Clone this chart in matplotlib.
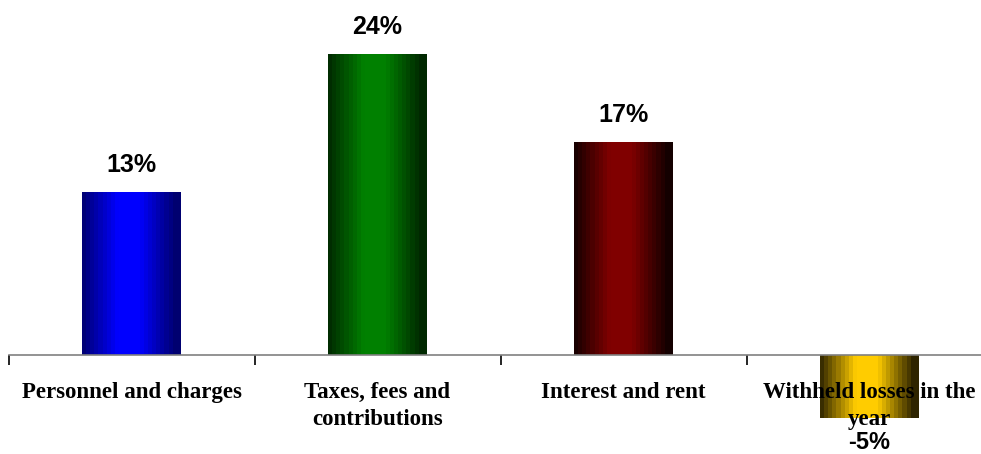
import numpy as np
import matplotlib
matplotlib.use("Agg")
import matplotlib.pyplot as plt
from matplotlib.colors import LinearSegmentedColormap

categories = [
    "Personnel and charges",
    "Taxes, fees and\ncontributions",
    "Interest and rent",
    "Withheld losses in the\nyear",
]
values = [13, 24, 17, -5]
edge_colors = ["#000070", "#002800", "#140000", "#2e2400"]
mid_colors = ["#0000ff", "#008000", "#800000", "#ffcc00"]

fig = plt.figure(figsize=(9.81, 4.54), dpi=100)
ax = fig.add_axes([8.5 / 981, 0, 984 / 981, 1])

x = np.arange(len(values))
bars = ax.bar(x, values, width=0.4, facecolor="none", edgecolor="none", zorder=1)

# stepped horizontal shading: dark edges, bright centre
steps = 24
pos = (np.arange(steps) + 0.5) / steps
shade = np.clip(1 - np.abs(pos - 0.47) / 0.47, 0, 1)
shade = np.minimum(shade * 1.3, 1.0)
for bar, c0, c1 in zip(bars, edge_colors, mid_colors):
    cmap = LinearSegmentedColormap.from_list("g", [c0, c1])
    bx, by = bar.get_x(), bar.get_y()
    bw, bh = bar.get_width(), bar.get_height()
    im = ax.imshow(shade[np.newaxis, :], cmap=cmap, vmin=0, vmax=1,
                   extent=[bx, bx + bw, by, by + bh], aspect="auto",
                   interpolation="nearest", zorder=1)
    im.set_clip_path(bar)

ax.set_xlim(-0.5, 3.5)
ax.set_ylim(-7.895, 28.31)

for s in ["top", "left", "right"]:
    ax.spines[s].set_visible(False)
ax.spines["bottom"].set_position(("data", 0))
ax.spines["bottom"].set_color("#808080")
ax.spines["bottom"].set_linewidth(1.2)
ax.set_yticks([])
ax.set_xticks(np.arange(-0.5, len(values), 1.0))
ax.set_xticklabels([])
ax.tick_params(axis="x", direction="out", length=7, width=1.2, color="black")

for i, (lab, v) in enumerate(zip(categories, values)):
    ax.annotate(lab, (i, 0), xytext=(0, -27), textcoords="offset pixels",
                ha="center", va="top", family="Liberation Serif",
                fontweight="bold", fontsize=16.5, linespacing=1.4, zorder=5)
    if v >= 0:
        ax.annotate(f"{v}%", (i, v), xytext=(0, 15), textcoords="offset pixels",
                    ha="center", va="bottom", family="Liberation Sans",
                    fontweight="bold", fontsize=18, zorder=5)
    else:
        ax.annotate(f"{v}%", (i, v), xytext=(0, -13), textcoords="offset pixels",
                    ha="center", va="top", family="Liberation Sans",
                    fontweight="bold", fontsize=17, zorder=6)

fig.savefig("out.png", dpi=100)
